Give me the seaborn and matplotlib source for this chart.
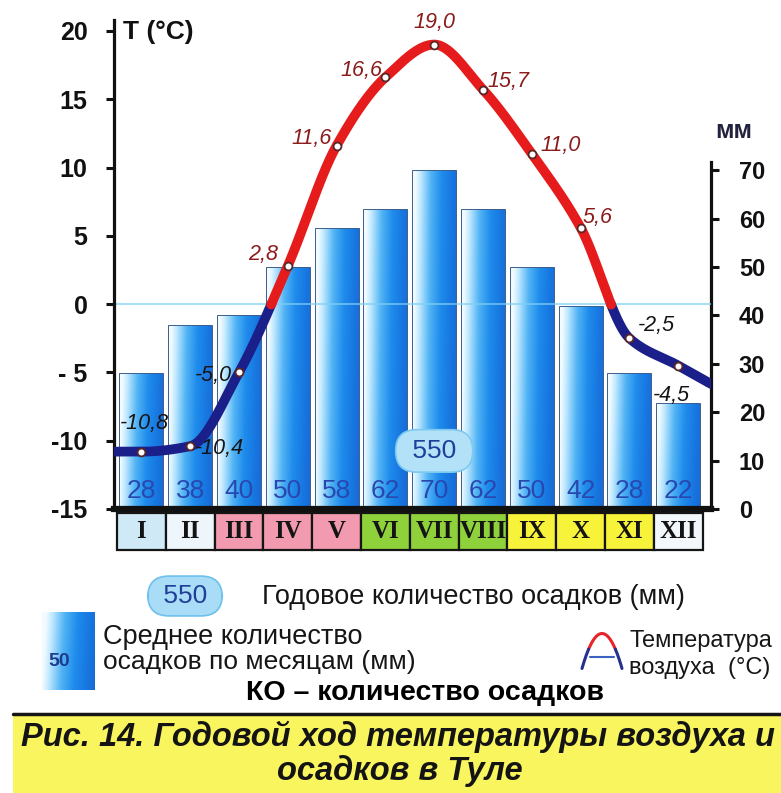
import numpy as np
import pandas as pd
import matplotlib
matplotlib.use("Agg")
import matplotlib.pyplot as plt
import seaborn as sns
from matplotlib.patches import Rectangle
from matplotlib.lines import Line2D
from matplotlib.transforms import blended_transform_factory
from matplotlib.colors import LinearSegmentedColormap

# ---------------- data ----------------
months = ['I', 'II', 'III', 'IV', 'V', 'VI', 'VII', 'VIII', 'IX', 'X', 'XI', 'XII']
temperature = [-10.8, -10.4, -5.0, 2.8, 11.6, 16.6, 19.0, 15.7, 11.0, 5.6, -2.5, -4.5]
temp_labels = ['-10,8', '-10,4', '-5,0', '2,8', '11,6', '16,6', '19,0', '15,7', '11,0', '5,6', '-2,5', '-4,5']
precipitation = [28, 38, 40, 50, 58, 62, 70, 62, 50, 42, 28, 22]
month_colors = ['#cfe9f7', '#eef6fb', '#f29bb0', '#f29bb0', '#f29bb0',
                '#8fd13a', '#8fd13a', '#8fd13a', '#f7f23a', '#f7f23a', '#f7f23a', '#f2f7fb']
temp_ticks = [-15, -10, -5, 0, 5, 10, 15, 20]
temp_tick_labels = ['-15', '-10', '- 5', '0', '5', '10', '15', '20']
precip_ticks = [0, 10, 20, 30, 40, 50, 60, 70]
# label offsets (px) relative to point and alignment
label_dx = [2.6, 4.8, -7, -9.8, -4.6, -3.4, 0, 4, 8.2, 2.4, 8.6, -7.2]
label_dy = [-28.5, 2, 2.7, -11.8, -7.5, -7.2, -22.5, -8.5, -8.7, -10.5, -13.2, 29.5]
label_ha = ['center', 'left', 'right', 'right', 'right', 'right', 'center',
            'left', 'left', 'left', 'left', 'center']

sns.set_theme(style='white')
plt.rcParams['font.family'] = ['Liberation Sans', 'DejaVu Sans']

W, H = 781, 793
fig = plt.figure(figsize=(W / 100, H / 100), dpi=100)
fig.patch.set_facecolor('white')


def fx(px):
    return px / W


def fy(py):
    return 1 - py / H


AX_L, AX_R, AX_T, AX_B = 114, 711, 20, 509
ax = fig.add_axes([fx(AX_L), fy(AX_B), (AX_R - AX_L) / W, (AX_B - AX_T) / H])
ax2 = ax.twinx()

slot = 48.8
xmin = -0.5 - (117 - AX_L) / slot
xmax = -0.5 + (AX_R - 117) / slot
tmin = -15
tmax = tmin + (AX_B - AX_T) / 13.66
pmax = (AX_B - AX_T) / 4.84

# ---------------- bars (precipitation) ----------------
df = pd.DataFrame({'month': months, 'precip': precipitation})
sns.barplot(data=df, x='month', y='precip', ax=ax2, color='#1e88e5', width=0.9,
            saturation=1, edgecolor='#3d5f8c', linewidth=0.7)

cmap = LinearSegmentedColormap.from_list('bar', [
    (0.0, '#f2fbff'), (0.12, '#bfe8ff'), (0.35, '#52b4f5'),
    (0.6, '#1f8cec'), (0.85, '#1776e0'), (1.0, '#1a6ad6')])
grad = np.tile(np.linspace(0, 1, 200), (60, 1))
vert = np.linspace(0, 1, 60)[:, None]
grad = np.clip(grad - 0.08 * vert, 0, 1)
for p in list(ax2.patches):
    x0, y0, w, h = p.get_x(), p.get_y(), p.get_width(), p.get_height()
    im = ax2.imshow(grad, extent=[x0, x0 + w, y0, y0 + h], aspect='auto', cmap=cmap,
                    origin='lower', zorder=1.5, interpolation='bilinear')
    im.set_clip_path(p)
    p.set_facecolor('none')
    p.set_zorder(1.6)

ax2.set_ylim(0, pmax)
ax2.set_xlim(xmin, xmax)
ax2.set_ylabel('')
ax2.set_xlabel('')

# bar values
for i, v in enumerate(precipitation):
    ax2.text(i, 3.8, str(v), ha='center', va='center', fontsize=19,
             color='#2848b0', zorder=3)

# annual total box
total = int(np.sum(precipitation))
ax2.text(6, 12.0, f' {total} ', ha='center', va='center', fontsize=19, color='#1f3f99',
         zorder=3,
         bbox=dict(boxstyle='round,pad=0.35,rounding_size=0.8', facecolor='#b3e2f8',
                   edgecolor='#7ccaf0', linewidth=1.2))

# right axis styling
for s in ['top', 'left', 'bottom']:
    ax2.spines[s].set_visible(False)
ax2.spines['right'].set_visible(True)
ax2.spines['right'].set_color('#111111')
ax2.spines['right'].set_linewidth(2.3)
ax2.spines['right'].set_bounds(0, (AX_B - 162) / 4.84)
ax2.set_yticks(precip_ticks)
ax2.set_yticklabels([str(t) for t in precip_ticks])
ax2.tick_params(axis='y', right=True, direction='out', length=6, width=2.2,
                pad=14, labelsize=17, colors='#111111')
for lab in ax2.get_yticklabels():
    lab.set_fontweight('bold')
ax2.grid(False)

# ---------------- temperature curve ----------------
ax.set_zorder(ax2.get_zorder() + 1)
ax.patch.set_visible(False)

x = np.arange(len(temperature), dtype=float)
y = np.asarray(temperature, dtype=float)


def smooth_monotone(xk, yk, xs):
    """Shape-preserving (PCHIP-like) cubic Hermite curve through the points."""
    n = len(xk)
    hk = np.diff(xk)
    delta = np.diff(yk) / hk
    d = np.zeros(n)
    for k in range(1, n - 1):
        if delta[k - 1] * delta[k] > 0:
            w1 = 2 * hk[k] + hk[k - 1]
            w2 = hk[k] + 2 * hk[k - 1]
            d[k] = (w1 + w2) / (w1 / delta[k - 1] + w2 / delta[k])
    d[0] = 0.0
    d[-1] = delta[-1]
    idx = np.clip(np.searchsorted(xk, xs) - 1, 0, n - 2)
    hh = hk[idx]
    t = (xs - xk[idx]) / hh
    h00 = 2 * t ** 3 - 3 * t ** 2 + 1
    h10 = t ** 3 - 2 * t ** 2 + t
    h01 = -2 * t ** 3 + 3 * t ** 2
    h11 = t ** 3 - t ** 2
    out = h00 * yk[idx] + h10 * hh * d[idx] + h01 * yk[idx + 1] + h11 * hh * d[idx + 1]
    out = np.where(xs < xk[0], yk[0] + d[0] * (xs - xk[0]), out)
    out = np.where(xs > xk[-1], yk[-1] + d[-1] * (xs - xk[-1]), out)
    return out


xs = np.linspace(xmin, xmax, 4000)
ys = smooth_monotone(x, y, xs)
ax.axhline(0, color='#7fd0f2', lw=1.2, alpha=0.8, zorder=1)
ax.plot(xs, np.where(ys <= 0.05, ys, np.nan), color='#1b1f8a', lw=7,
        solid_capstyle='round', zorder=3)
ax.plot(xs, np.where(ys >= -0.05, ys, np.nan), color='#e61c1c', lw=7,
        solid_capstyle='round', zorder=3)
sns.scatterplot(x=x, y=y, ax=ax, s=32, color='white', edgecolor='#5a2626',
                linewidth=1.3, zorder=5, legend=False)

for i, (t, lab) in enumerate(zip(temperature, temp_labels)):
    col = '#8a1c1c' if t > 0 else '#151515'
    ax.annotate(lab, (i, t), xytext=(label_dx[i] * 0.72, -label_dy[i] * 0.72),
                textcoords='offset points', ha=label_ha[i], va='center',
                fontsize=15.5, fontstyle='italic', color=col, zorder=6)

ax.set_xlim(xmin, xmax)
ax.set_ylim(tmin, tmax)
ax.set_xticks([])
ax.set_yticks(temp_ticks)
ax.set_yticklabels(temp_tick_labels)
ax.tick_params(axis='y', left=True, direction='out', length=6, width=2.2,
               pad=13, labelsize=18, colors='#111111')
for lab in ax.get_yticklabels():
    lab.set_fontweight('bold')
for s in ['top', 'right']:
    ax.spines[s].set_visible(False)
ax.spines['left'].set_color('#111111')
ax.spines['left'].set_linewidth(2.3)
ax.spines['bottom'].set_color('#111111')
ax.spines['bottom'].set_linewidth(4.5)
ax.spines['bottom'].set_capstyle('projecting')
ax.grid(False)
ax.set_xlabel('')
ax.set_ylabel('')

# axis titles
ax.text(0.015, 1.0, 'T (°C)', transform=ax.transAxes, ha='left', va='top',
        fontsize=19, fontweight='bold', color='#111111')
fig.text(fx(734), fy(131), 'мм', ha='center', va='center', fontsize=18,
         fontweight='bold', color='#23233f')

# month cells under the axis
trans = blended_transform_factory(ax.transData, ax.transAxes)
c_top = -(513 - AX_B) / (AX_B - AX_T)
c_bot = -(550 - AX_B) / (AX_B - AX_T)
for i, (m, c) in enumerate(zip(months, month_colors)):
    ax.add_patch(Rectangle((i - 0.5, c_bot), 1, c_top - c_bot, transform=trans,
                           facecolor=c, edgecolor='#151515', lw=1.6, clip_on=False,
                           zorder=2))
    ax.text(i, (c_top + c_bot) / 2, m, transform=trans, ha='center', va='center',
            fontsize=18, fontweight='bold', family=['Liberation Serif', 'DejaVu Serif'],
            color='#141414', clip_on=False, zorder=3)

# ---------------- legend ----------------
fig.text(fx(185), fy(596), f' {total} ', ha='center', va='center', fontsize=19,
         color='#1f3f99',
         bbox=dict(boxstyle='round,pad=0.3,rounding_size=0.8', facecolor='#a9dcf6',
                   edgecolor='#6cc0ec', linewidth=1.2))
fig.text(fx(262), fy(597), 'Годовое количество осадков (мм)', ha='left', va='center',
         fontsize=19.5, color='#161616')

lax = fig.add_axes([fx(42), fy(690), 53 / W, 78 / H])
lax.imshow(grad, aspect='auto', cmap=cmap, origin='lower', interpolation='bilinear')
lax.set_xticks([])
lax.set_yticks([])
for s in lax.spines.values():
    s.set_visible(False)
fig.text(fx(59), fy(661), '50', ha='center', va='center', fontsize=14,
         fontweight='bold', color='#1d3c8f')
fig.text(fx(103), fy(637), 'Среднее количество', ha='left', va='center',
         fontsize=19.5, color='#161616')
fig.text(fx(103), fy(662), 'осадков по месяцам (мм)', ha='left', va='center',
         fontsize=19, color='#161616')

# temperature symbol
sax = fig.add_axes([fx(580), fy(672), 44 / W, 42 / H])
tt = np.linspace(-1, 1, 200)
arc = 1 - tt ** 2
sax.plot(tt, np.where(arc >= 0.55, arc, np.nan), color='#e8242a', lw=2.2,
         solid_capstyle='round')
sax.plot(tt, np.where(arc <= 0.56, arc, np.nan), color='#26308f', lw=2.2,
         solid_capstyle='round')
sax.plot([-0.62, 0.62], [0.32, 0.32], color='#3b62c0', lw=1.5)
sax.set_xlim(-1.1, 1.1)
sax.set_ylim(-0.1, 1.1)
sax.axis('off')
fig.text(fx(629), fy(641), 'Температура', ha='left', va='center', fontsize=17,
         color='#161616')
fig.text(fx(629), fy(668), 'воздуха  (°C)', ha='left', va='center', fontsize=17,
         color='#161616')

fig.text(fx(425), fy(693), 'КО – количество осадков', ha='center', va='center',
         fontsize=20.5, fontweight='bold', color='#000000')

# caption band
fig.add_artist(Rectangle((fx(13), 0), 1 - fx(13), fy(716), transform=fig.transFigure,
                         facecolor='#f9f55e', edgecolor='none', zorder=0))
fig.add_artist(Line2D([fx(13), 1], [fy(714), fy(714)], transform=fig.transFigure,
                      color='#151515', lw=2.5))
fig.text(fx(398), fy(737), 'Рис. 14. Годовой ход температуры воздуха и', ha='center',
         va='center', fontsize=23.5, fontstyle='italic', fontweight='bold',
         color='#141414')
fig.text(fx(400), fy(771), 'осадков в Туле', ha='center', va='center', fontsize=23.5,
         fontstyle='italic', fontweight='bold', color='#141414')

fig.savefig('out.png', dpi=100, facecolor='white')
